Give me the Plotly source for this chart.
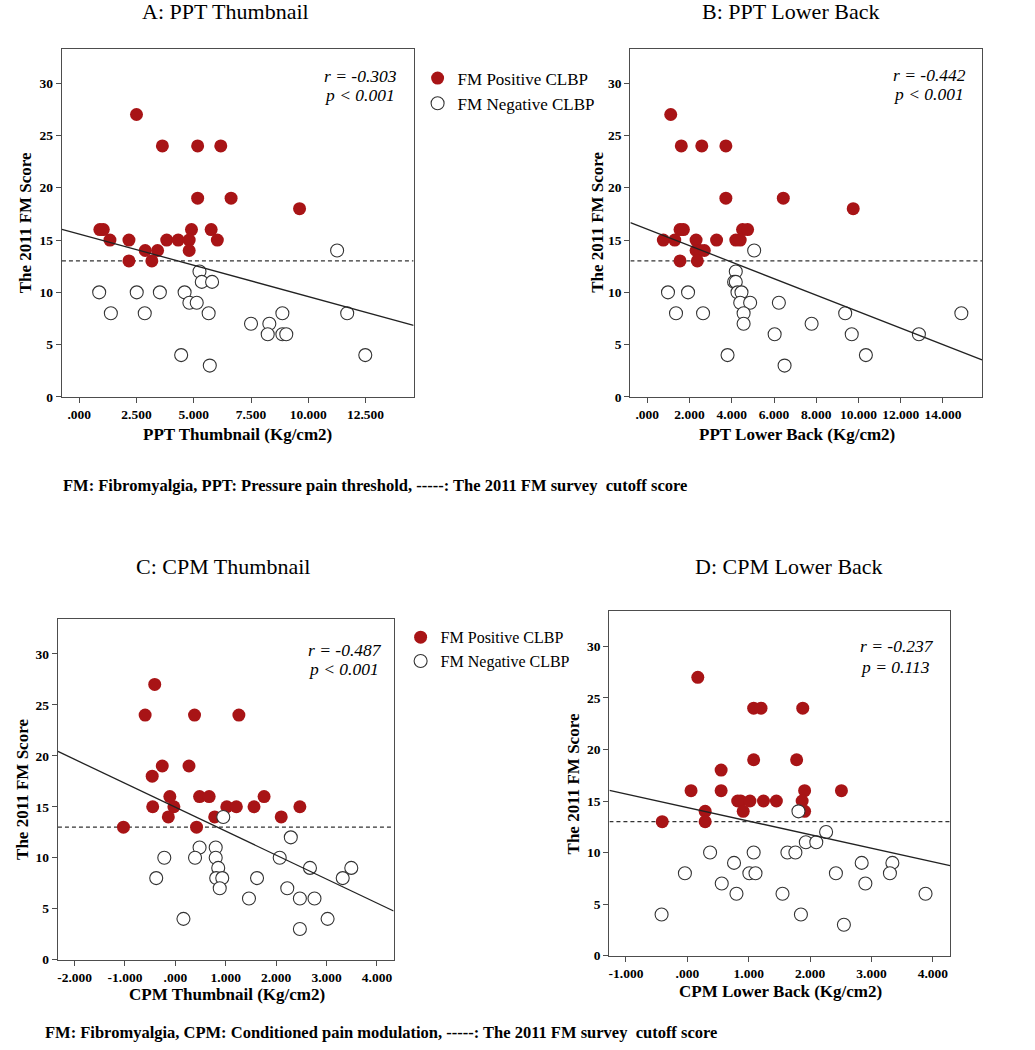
import plotly.graph_objects as go

W, H = 1035, 1050

# ---------------- data ----------------
# Panel A: PPT Thumbnail
a_pos_x = [2.50, 3.63, 5.17, 6.18, 5.17, 6.63, 9.62, 0.90, 1.05, 4.90, 5.76,
           1.34, 2.17, 3.82, 4.32, 4.80, 6.03, 2.88, 3.42, 4.80, 2.17, 3.17]
a_pos_y = [27, 24, 24, 24, 19, 19, 18, 16, 16, 16, 16,
           15, 15, 15, 15, 15, 15, 14, 14, 14, 13, 13]
a_neg_x = [11.26, 5.25, 5.35, 5.80, 0.87, 2.51, 3.52, 4.60, 4.81, 5.13,
           1.38, 2.86, 5.65, 8.87, 11.70, 7.50, 8.30, 8.23, 8.87, 9.04,
           4.45, 12.49, 5.70]
a_neg_y = [14, 12, 11, 11, 10, 10, 10, 10, 9, 9,
           8, 8, 8, 8, 8, 7, 7, 6, 6, 6,
           4, 4, 3]

# Panel B: PPT Lower Back
b_pos_x = [1.11, 1.61, 2.58, 3.72, 3.72, 6.44, 9.75, 1.55, 1.71, 4.51, 4.75,
           0.76, 1.30, 2.31, 3.28, 4.19, 4.40, 2.31, 2.50, 2.70, 1.55, 2.37]
b_pos_y = [27, 24, 24, 24, 19, 19, 18, 16, 16, 16, 16,
           15, 15, 15, 15, 15, 15, 14, 14, 14, 13, 13]
b_neg_x = [5.06, 4.19, 4.11, 4.19, 0.98, 1.93, 4.27, 4.46, 4.40, 4.87, 6.23,
           1.36, 2.64, 4.56, 9.37, 14.87, 4.56, 7.78, 6.03, 9.68, 12.86,
           3.80, 10.35, 6.50]
b_neg_y = [14, 12, 11, 11, 10, 10, 10, 10, 9, 9, 9,
           8, 8, 8, 8, 8, 7, 7, 6, 6, 6,
           4, 4, 3]

# Panel C: CPM Thumbnail
c_pos_x = [-0.41, -0.60, 0.38, 1.26, -0.26, 0.27, -0.46, -0.11, 0.48, 0.67, 1.76,
           -0.45, -0.03, 1.02, 1.21, 1.56, 2.47, -0.14, 0.78, 2.10, -1.03, 0.42]
c_pos_y = [27, 24, 24, 24, 19, 19, 18, 16, 16, 16, 16,
           15, 15, 15, 15, 15, 15, 14, 14, 14, 13, 13]
c_neg_x = [0.95, 2.29, 0.48, 0.80, -0.22, 0.39, 0.80, 2.07, 0.85, 2.67, 3.49,
           -0.38, 0.81, 0.93, 1.62, 3.32, 0.88, 2.22, 1.46, 2.47, 2.76,
           0.16, 3.02, 2.47]
c_neg_y = [14, 12, 11, 11, 10, 10, 10, 10, 9, 9, 9,
           8, 8, 8, 8, 8, 7, 7, 6, 6, 6,
           4, 4, 3]

# Panel D: CPM Lower Back
d_pos_x = [0.17, 1.08, 1.20, 1.88, 1.08, 1.78, 0.55, 0.06, 0.55, 1.91, 2.51,
           0.82, 0.87, 1.02, 1.24, 1.45, 1.87, 0.29, 0.91, 1.91, -0.41, 0.29]
d_pos_y = [27, 24, 24, 24, 19, 19, 18, 16, 16, 16, 16,
           15, 15, 15, 15, 15, 15, 14, 14, 14, 13, 13]
d_neg_x = [1.81, 2.26, 1.93, 2.10, 0.37, 1.08, 1.63, 1.76, 0.76, 2.84, 3.34,
           -0.04, 1.01, 1.11, 2.42, 3.30, 0.56, 2.90, 0.80, 1.55, 3.88,
           -0.42, 1.85, 2.55]
d_neg_y = [14, 12, 11, 11, 10, 10, 10, 10, 9, 9, 9,
           8, 8, 8, 8, 8, 7, 7, 6, 6, 6,
           4, 4, 3]

# regression lines (intercept, slope)
fit_intercept = [15.58, 16.04, 14.95, 14.37]
fit_slope = [-0.598, -0.788, -2.351, -1.317]
cutoff_score = 13

# tick labels
a_tickvals = [0, 2.5, 5, 7.5, 10, 12.5]
a_ticktext = [".000", "2.500", "5.000", "7.500", "10.000", "12.500"]
b_tickvals = [0, 2, 4, 6, 8, 10, 12, 14]
b_ticktext = [".000", "2.000", "4.000", "6.000", "8.000", "10.000", "12.000", "14.000"]
c_tickvals = [-2, -1, 0, 1, 2, 3, 4]
c_ticktext = ["-2.000", "-1.000", ".000", "1.000", "2.000", "3.000", "4.000"]
d_tickvals = [-1, 0, 1, 2, 3, 4]
d_ticktext = ["-1.000", ".000", "1.000", "2.000", "3.000", "4.000"]
y_tickvals = [0, 5, 10, 15, 20, 25, 30]

panel_titles = ["A: PPT Thumbnail", "B: PPT Lower Back", "C: CPM Thumbnail", "D: CPM Lower Back"]
x_titles = ["PPT Thumbnail (Kg/cm2)", "PPT Lower Back (Kg/cm2)",
            "CPM Thumbnail (Kg/cm2)", "CPM Lower Back (Kg/cm2)"]
y_title = "The 2011 FM Score"
r_texts = ["r = -0.303", "r = -0.442", "r = -0.487", "r = -0.237"]
p_texts = ["p &lt; 0.001", "p &lt; 0.001", "p &lt; 0.001", "p = 0.113"]
legend_names = ["FM Positive CLBP", "FM Negative CLBP"]
footnote_ppt = "FM: Fibromyalgia, PPT: Pressure pain threshold, -----: The 2011 FM survey  cutoff score"
footnote_cpm = "FM: Fibromyalgia, CPM: Conditioned pain modulation, -----: The 2011 FM survey  cutoff score"

# ---------------- layout geometry (page pixels) ----------------
boxes = [  # left, top, right, bottom
    (61, 49, 413, 400),
    (630, 49, 982, 400),
    (57, 624, 393, 967),
    (609, 616, 950, 963),
]
x_ranges = [(-0.756, 14.6), (-0.80, 15.85), (-2.33, 4.33), (-1.27, 4.28)]
y_ranges = [(0, 33.3), (0, 33.3), (0, 33.4), (0, 33.4)]
tickvals = [a_tickvals, b_tickvals, c_tickvals, d_tickvals]
ticktexts = [a_ticktext, b_ticktext, c_ticktext, d_ticktext]
pos_data = [(a_pos_x, a_pos_y), (b_pos_x, b_pos_y), (c_pos_x, c_pos_y), (d_pos_x, d_pos_y)]
neg_data = [(a_neg_x, a_neg_y), (b_neg_x, b_neg_y), (c_neg_x, c_neg_y), (d_neg_x, d_neg_y)]

RED = "#A81416"
SERIF = "Liberation Serif"
AXC = "#4d4d4d"


def px(x):
    return x / W


def py(y):
    return 1 - y / H


fig = go.Figure()
layout = dict(
    width=W, height=H, margin=dict(l=0, r=0, t=0, b=0),
    plot_bgcolor="white", paper_bgcolor="white",
    font=dict(family=SERIF, color="black"),
    showlegend=True,
)

annotations = []
for i in range(4):
    n = "" if i == 0 else str(i + 1)
    xa, ya = "x" + n, "y" + n
    L, T, R, B = boxes[i]
    layout["xaxis" + n] = dict(
        domain=[px(L), px(R)], range=list(x_ranges[i]), anchor=ya,
        showgrid=False, zeroline=False, showline=True, mirror=True,
        linecolor=AXC, linewidth=1.3, ticks="outside", ticklen=5,
        tickcolor=AXC, tickwidth=1.2,
        tickvals=tickvals[i], ticktext=ticktexts[i],
        tickfont=dict(family=SERIF, size=13.5, color="black", weight="bold"),
    )
    layout["yaxis" + n] = dict(
        domain=[py(B), py(T)], range=list(y_ranges[i]), anchor=xa,
        showgrid=False, zeroline=False, showline=True, mirror=True,
        linecolor=AXC, linewidth=1.3, ticks="outside", ticklen=5,
        tickcolor=AXC, tickwidth=1.2, tickvals=y_tickvals,
        tickfont=dict(family=SERIF, size=13.5, color="black", weight="bold"),
    )

    legend_ref = "legend" if i == 0 else ("legend2" if i == 2 else None)
    show = legend_ref is not None

    # cutoff dashed line
    fig.add_trace(go.Scatter(
        x=list(x_ranges[i]), y=[cutoff_score, cutoff_score], mode="lines",
        line=dict(color="#333333", width=1.3, dash="4px,3px"),
        xaxis=xa, yaxis=ya, showlegend=False, hoverinfo="skip"))

    # positive
    fig.add_trace(go.Scatter(
        x=pos_data[i][0], y=pos_data[i][1], mode="markers",
        marker=dict(size=13, color=RED, line=dict(width=0)),
        name=legend_names[0], xaxis=xa, yaxis=ya,
        showlegend=show, legend=legend_ref if show else "legend"))
    # negative
    fig.add_trace(go.Scatter(
        x=neg_data[i][0], y=neg_data[i][1], mode="markers",
        marker=dict(size=13, color="white", line=dict(width=1.1, color="#333333")),
        name=legend_names[1], xaxis=xa, yaxis=ya,
        showlegend=show, legend=legend_ref if show else "legend"))

    # regression line
    x0, x1 = x_ranges[i]
    fig.add_trace(go.Scatter(
        x=[x0, x1],
        y=[fit_intercept[i] + fit_slope[i] * x0, fit_intercept[i] + fit_slope[i] * x1],
        mode="lines", line=dict(color="#222222", width=1.3),
        xaxis=xa, yaxis=ya, showlegend=False, hoverinfo="skip"))

# text placements (page pixels)
title_pos = [(225, 12), (790, 12), (222, 571), (789, 571)]
xtitle_pos = [(237, 438), (797, 438), (226, 1002), (780, 999)]
ytitle_pos = [(24, 224), (597, 224), (22, 795), (574, 790)]
stat_pos = [(321, 77, 96), (891, 76, 95), (305, 655, 674), (858, 651, 672)]

for i in range(4):
    tx, ty = title_pos[i]
    annotations.append(dict(text=panel_titles[i], x=px(tx), y=py(ty), xref="paper", yref="paper",
                            xanchor="center", yanchor="middle", showarrow=False,
                            font=dict(family=SERIF, size=22, color="black")))
    ax_, ay_ = xtitle_pos[i]
    annotations.append(dict(text=x_titles[i], x=px(ax_), y=py(ay_), xref="paper", yref="paper",
                            xanchor="center", yanchor="middle", showarrow=False,
                            font=dict(family=SERIF, size=17, color="black", weight="bold")))
    yx, yy = ytitle_pos[i]
    annotations.append(dict(text=y_title, x=px(yx), y=py(yy), xref="paper", yref="paper",
                            xanchor="center", yanchor="middle", showarrow=False, textangle=-90,
                            font=dict(family=SERIF, size=17, color="black", weight="bold")))
    sx, sy1, sy2 = stat_pos[i]
    annotations.append(dict(text=r_texts[i], x=px(sx), y=py(sy1), xref="paper", yref="paper",
                            xanchor="left", yanchor="middle", showarrow=False,
                            font=dict(family=SERIF, size=17.5, color="black", style="italic")))
    annotations.append(dict(text=p_texts[i], x=px(sx), y=py(sy2), xref="paper", yref="paper",
                            xanchor="left", yanchor="middle", showarrow=False,
                            font=dict(family=SERIF, size=17.5, color="black", style="italic")))

annotations.append(dict(text=footnote_ppt, x=px(60), y=py(489), xref="paper", yref="paper",
                        xanchor="left", yanchor="middle", showarrow=False,
                        font=dict(family=SERIF, size=16.5, color="black", weight="bold")))
annotations.append(dict(text=footnote_cpm, x=px(42), y=py(1040), xref="paper", yref="paper",
                        xanchor="left", yanchor="middle", showarrow=False,
                        font=dict(family=SERIF, size=16.5, color="black", weight="bold")))

layout["annotations"] = annotations
layout["legend"] = dict(x=px(417), y=py(61), xanchor="left", yanchor="top",
                        bgcolor="rgba(0,0,0,0)", borderwidth=0, tracegroupgap=0,
                        itemwidth=30, font=dict(family=SERIF, size=17, color="black"))
layout["legend2"] = dict(x=px(400), y=py(625), xanchor="left", yanchor="top",
                         bgcolor="rgba(0,0,0,0)", borderwidth=0, tracegroupgap=0,
                         itemwidth=30, font=dict(family=SERIF, size=16, color="black"))

fig.update_layout(**layout)
# remove the browser's default 8px page margin so the figure fills the window; hide modebar
fig.write_html("out.html", config={"displayModeBar": False},
               post_script="document.body.style.margin='0px';")
